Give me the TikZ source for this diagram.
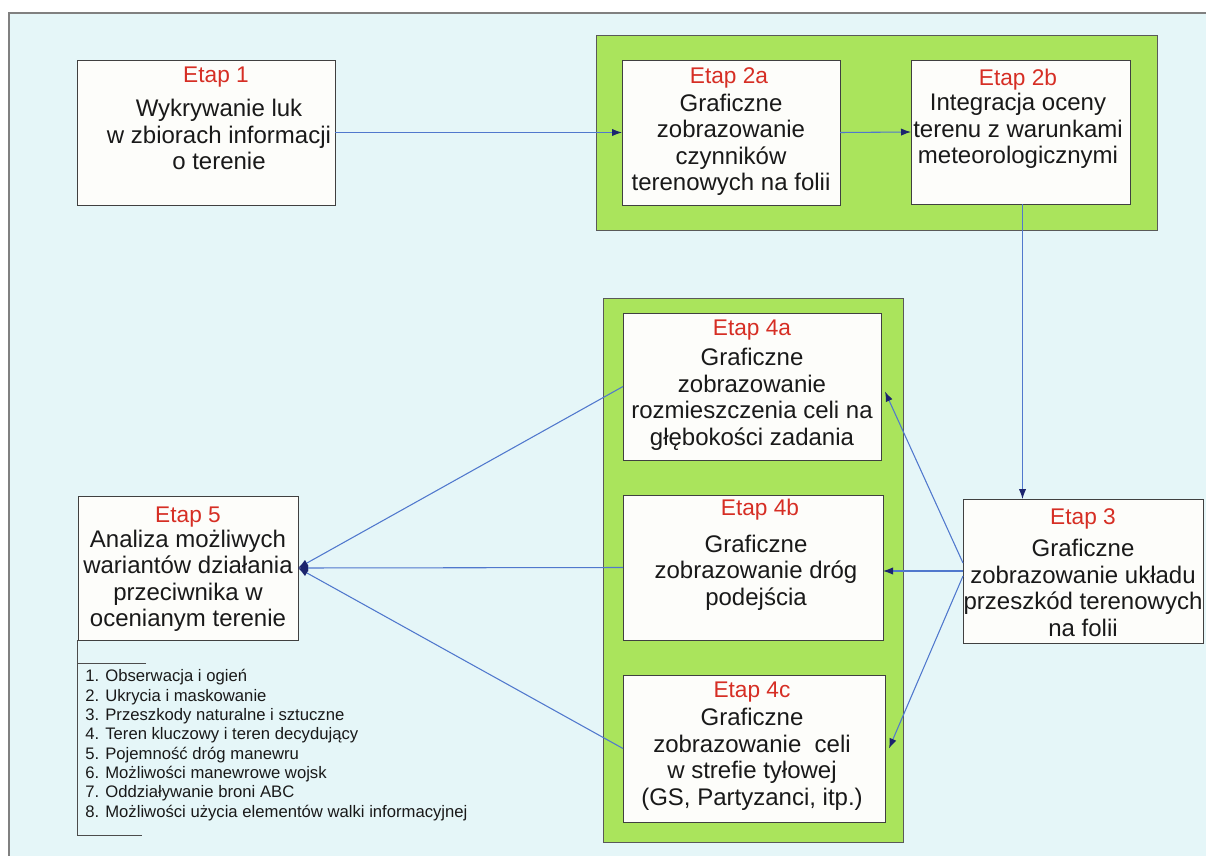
\documentclass[tikz,border=0pt]{standalone}
\usepackage{fontspec}
\setmainfont{Liberation Sans}
\usetikzlibrary{arrows.meta,calc}
\definecolor{bgc}{RGB}{229,246,248}
\definecolor{grn}{RGB}{170,228,92}
\definecolor{etapred}{RGB}{214,46,36}
\definecolor{lnblue}{RGB}{80,120,205}
\definecolor{navy}{RGB}{28,36,110}
\definecolor{boxfill}{RGB}{253,253,250}
\definecolor{txt}{RGB}{25,25,25}
\newcommand\mkbox[6]{\node[#6, anchor=north west, minimum width={(#4-#2)*0.75pt}, minimum height={(#5-#3)*0.75pt}] (#1) at (#2,#3) {};}
\begin{document}
\begin{tikzpicture}[x=0.75pt,y=-0.75pt,
  stagebox/.style={draw=black!75, fill=boxfill, line width=0.6pt, inner sep=0pt, outer sep=0pt},
  panel/.style={draw=black!65, fill=grn, line width=0.6pt, inner sep=0pt, outer sep=0pt},
  lab/.style={font=\fontsize{17}{19}\selectfont, text=etapred, inner sep=0pt},
  body/.style={font=\fontsize{18}{19.9}\selectfont, text=txt, align=center, inner sep=0pt},
  listtext/.style={font=\fontsize{12.5}{14.5}\selectfont, text=txt, align=left, inner sep=0pt},
  conn/.style={draw=lnblue, line width=0.8pt, -{Latex[length=7.5pt,width=5.5pt,color=navy]}},
  bracket/.style={draw=black!70, line width=0.6pt}]
\useasboundingbox (0,0) rectangle (1206,856);
% background
\fill[white] (0,0) rectangle (1206,856);
\fill[bgc] (9,13) rectangle (1206,856);
\draw[black!50, line width=0.8pt] (1206,13) -- (9,13) -- (9,856);
% green panels
\mkbox{p1}{596}{35}{1157}{230}{panel}
\mkbox{p2}{603}{298}{903}{842}{panel}
% stage boxes
\mkbox{e1}{77}{60}{335}{205}{stagebox}
\mkbox{e2a}{622}{60}{840}{205}{stagebox}
\mkbox{e2b}{911}{60}{1130}{204}{stagebox}
\mkbox{e3}{963}{499}{1203}{643}{stagebox}
\mkbox{e4a}{623}{313}{881}{460}{stagebox}
\mkbox{e4b}{623}{495}{883}{640}{stagebox}
\mkbox{e4c}{623}{675}{885}{822}{stagebox}
\mkbox{e5}{78}{496}{298}{640}{stagebox}
% labels
\node[lab] (l1) at (216,77) {Etap 1};
\node[body] (b1) at (219,138) {\strut Wykrywanie luk\\w zbiorach informacji\\o terenie\strut};
\node[lab] (l2a) at (729,78) {Etap 2a};
\node[body] (b2a) at (731,145.5) {\strut Graficzne\\zobrazowanie\\czynników\\terenowych na folii\strut};
\node[lab] (l2b) at (1018,80) {Etap 2b};
\node[body] (b2b) at (1018,132) {\strut Integracja oceny\\terenu z warunkami\\meteorologicznymi\strut};
\node[lab] (l3) at (1083,519) {Etap 3};
\node[body] (b3) at (1083,591) {\strut Graficzne\\zobrazowanie układu\\przeszkód terenowych\\na folii\strut};
\node[lab] (l4a) at (752,330) {Etap 4a};
\node[body] (b4a) at (752,400) {\strut Graficzne\\zobrazowanie\\rozmieszczenia celi na\\głębokości zadania\strut};
\node[lab] (l4b) at (760,510) {Etap 4b};
\node[body] (b4b) at (756,573.5) {\strut Graficzne\\zobrazowanie dróg\\podejścia\strut};
\node[lab] (l4c) at (752,692) {Etap 4c};
\node[body] (b4c) at (752,760) {\strut Graficzne\\zobrazowanie\ \ celi\\w strefie tyłowej\\(GS, Partyzanci, itp.)\strut};
\node[lab] (l5) at (188,517) {Etap 5};
\node[body] (b5) at (188,581.5) {\strut Analiza możliwych\\wariantów działania\\przeciwnika w\\ocenianym terenie\strut};
% list
\node[listtext, anchor=west] (lst) at (85,745.5) {\strut 1. Obserwacja i ogień\\2. Ukrycia i maskowanie\\3. Przeszkody naturalne i sztuczne\\4. Teren kluczowy i teren decydujący\\5. Pojemność dróg manewru\\6. Możliwości manewrowe wojsk\\7. Oddziaływanie broni ABC\\8. Możliwości użycia elementów walki informacyjnej\strut};
\coordinate (lbot) at (142,835);
\coordinate (ltop) at (146,663);
\draw[bracket] ($(e5.south west)+(-1,0)$) |- (lbot);
\draw[bracket] (ltop) -- (ltop -| e5.south west);
% connectors
\coordinate (c2b) at ($(e2b.south)+(2,0)$);
\draw[conn] (e1.east) -- (e2a.west);
\draw[conn] (e2a.east) -- (e2b.west);
\draw[conn] (c2b) -- (c2b |- e3.north);
\draw[conn] ($(e3.west)+(0,-8)$) -- ($(e4a.east)+(4,5)$);
\draw[conn] (e3.west) -- (e3.west -| e4b.east);
\draw[conn] ($(e3.west)+(0,5)$) -- ($(e4c.east)+(4,0)$);
\draw[conn] (e4a.west) -- (e5.east);
\draw[conn] (e4b.west) -- (e5.east);
\draw[conn] (e4c.west) -- (e5.east);
\end{tikzpicture}
\end{document}
